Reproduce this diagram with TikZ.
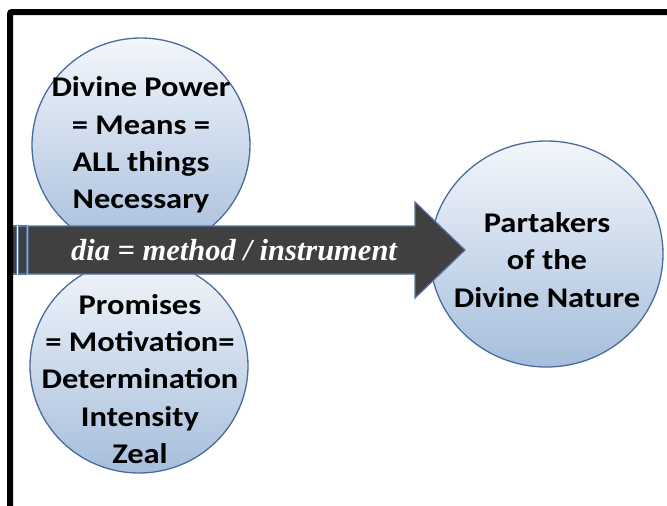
\documentclass[tikz,border=0pt]{standalone}
\usepackage{fontspec}
\usetikzlibrary{shapes.geometric}
\newfontfamily\lblfont[FakeStretch=1.14]{Carlito}
\newfontfamily\arrowfont{Liberation Serif}
\definecolor{bubbletop}{HTML}{F3F6FB}
\definecolor{bubblebot}{HTML}{A6BEDC}
\definecolor{bubbleline}{HTML}{4A6C9B}
\definecolor{arrowfill}{HTML}{404040}
\definecolor{arrowline}{HTML}{5575A5}
\tikzset{
  bubble/.style={ellipse, draw=bubbleline, line width=1.3pt, inner sep=0pt,
    top color=bubbletop, bottom color=bubblebot},
  bubbletext/.style={align=center, inner sep=0pt,
    font={\lblfont\bfseries\fontsize{28.5}{37.3}\selectfont}},
  arrowpart/.style={fill=arrowfill, draw=arrowline, line width=1.2pt, line join=miter},
  frameline/.style={line width=6pt, draw=black, rounded corners=2pt}
}
\begin{document}
\begin{tikzpicture}[x=1pt,y=-1pt]
\useasboundingbox (0,0) rectangle (667,506);

% the three bubbles
\node[bubble, minimum width=218pt, minimum height=214pt] (power) at (141,145) {};
\node[bubble, minimum width=218pt, minimum height=214pt] (promises) at (139,366) {};
\node[bubble, minimum width=233pt, minimum height=226pt] (nature) at (546.5,254) {};

% bubble texts
\node[bubbletext] (powertext) at (141,145) {Divine Power\\= Means =\\ALL things\\Necessary};
\node[bubbletext] (promisestext) at (140,379) {Promises\\= Motivation=\\Determination\\Intensity\\Zeal};
\node[bubbletext] (naturetext) at (547,260) {Partakers\\of the\\Divine Nature};

% striped block arrow
\path[arrowpart] (12.5,226) rectangle (16.5,274);
\path[arrowpart] (18.5,226) rectangle (26.5,274);
\path[arrowpart] (28,226) -- (415,226) -- (415,202) -- (465,250)
  -- (415,298) -- (415,274) -- (28,274) -- cycle;
\node[text=white, font={\arrowfont\bfseries\itshape\fontsize{30.5}{36}\selectfont}]
  (means) at (234,250) {dia = method / instrument};

% open frame
\draw[frameline] (10,510) -- (10,12) -- (672,12);
\end{tikzpicture}
\end{document}
